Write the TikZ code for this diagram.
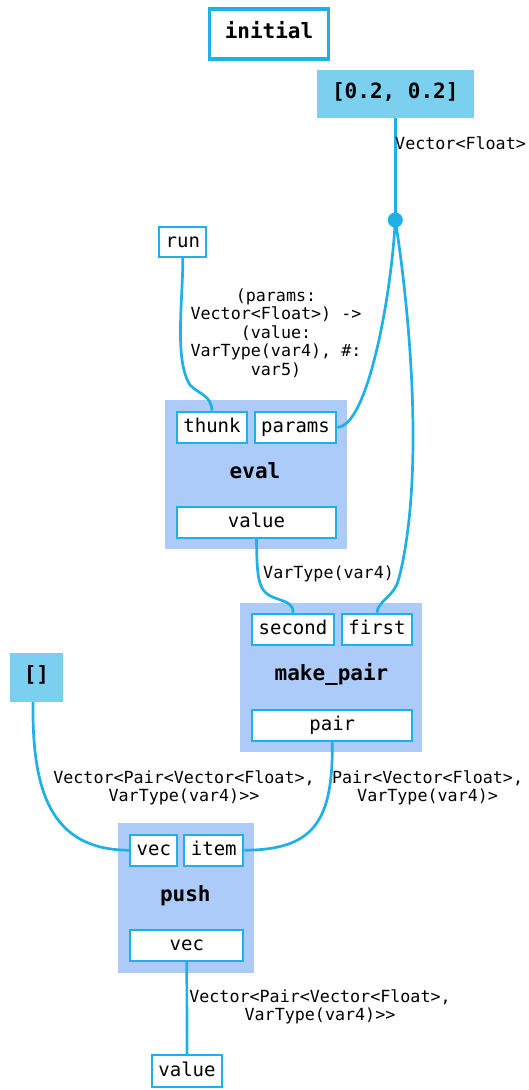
\documentclass[tikz,border=0pt]{standalone}
\usepackage{fontspec}
\newfontfamily\djm{DejaVu Sans Mono}
\definecolor{lineblue}{RGB}{30,176,230}
\definecolor{clusterfill}{RGB}{173,203,248}
\definecolor{constfill}{RGB}{123,207,239}
\begin{document}
\begin{tikzpicture}[x=1pt,y=-1pt,
 edge/.style={draw=lineblue,line width=2.7pt},
 port/.style={draw=lineblue,line width=2.2pt,fill=white,inner sep=0,minimum height=31pt,text height=14pt,text depth=4pt,font=\djm\fontsize{19}{22}\selectfont},
 cluster/.style={fill=clusterfill,inner sep=0},
 title/.style={font=\djm\bfseries\fontsize{21}{25}\selectfont,inner sep=0,text height=15pt,text depth=0pt},
 constbox/.style={fill=constfill,inner sep=0,text height=15pt,text depth=6.4pt,font=\djm\bfseries\fontsize{21}{25}\selectfont},
 elabel/.style={font=\djm\fontsize{16.7}{18.5}\selectfont,inner sep=0,align=center}]
\useasboundingbox (0,0) rectangle (529,1090);
% title
\node[draw=lineblue,line width=3.5pt,fill=white,minimum width=119pt,minimum height=50pt,inner sep=0,text height=15pt,text depth=6.4pt,font=\djm\bfseries\fontsize{21}{25}\selectfont] (initial) at (269,34) {initial};
% constants
\node[constbox,minimum width=157pt,minimum height=48pt] (c1) at (395.3,94.2) {[0.2, 0.2]};
\node[constbox,minimum width=52.7pt,minimum height=49pt] (c2) at (36.5,677.5) {[]};
% run
\node[port,minimum width=47pt,minimum height=30pt] (run) at (182.8,242) {run};
% eval
\node[cluster,minimum width=182pt,minimum height=149pt] (evalc) at (256,474.7) {};
\node[port,minimum width=70.6pt] (thunk) at (212,427.2) {thunk};
\node[port,minimum width=81.6pt] (params) at (295.5,427.2) {params};
\node[title] (evall) at (255,470.7) {eval};
\node[port,minimum width=159.6pt] (evalv) at (256.5,522.2) {value};
% make_pair
\node[cluster,minimum width=182pt,minimum height=149pt] (mpc) at (331,677.5) {};
\node[port,minimum width=81.7pt] (second) at (293,629.3) {second};
\node[port,minimum width=70.5pt] (first) at (377,629.3) {first};
\node[title] (mpl) at (331.5,673.2) {make\_pair};
\node[port,minimum width=160pt] (pair) at (332.3,725.6) {pair};
% push
\node[cluster,minimum width=136pt,minimum height=149.4pt] (pushc) at (185.7,898) {};
\node[port,minimum width=47pt] (vec) at (153.8,850.2) {vec};
\node[port,minimum width=59pt] (item) at (213.8,850.2) {item};
\node[title] (pushl) at (185.3,894) {push};
\node[port,minimum width=113pt] (vecout) at (186.8,945.5) {vec};
% output
\node[port,minimum width=70.6pt,minimum height=32pt] (value) at (187,1071.3) {value};
% dot
\coordinate (dot) at (395.3,220);
% edges
\draw[edge] (c1.south) -- (dot);
\fill[lineblue] (dot) circle (7.5pt);
\draw[edge] (run.south) .. controls (183,300) and (174,360) .. (190,385) .. controls (200,395) and (211,395) .. (thunk.north);
\draw[edge] (dot) .. controls (391,300) and (367,427) .. (params.east);
\draw[edge] (dot) .. controls (411,320) and (424,480) .. (399,578) .. controls (394,598) and (378,600) .. (first.north);
\draw[edge] (evalv.south) .. controls (257,580) and (258,592) .. (275,598) .. controls (290,603) and (293,605) .. (second.north);
\draw[edge] ([xshift=-3.5pt]c2.south) .. controls (32,790) and (50,850) .. (vec.west);
\draw[edge] (pair.south) .. controls (333,820) and (315,850) .. (item.east);
\draw[edge] (vecout.south) -- (value.north);
% labels
\node[elabel,anchor=west] (l1) at (395,143) {Vector<Float>};
\node[elabel] (l2) at (276,333) {(params:\\Vector<Float>) ->\\(value:\\VarType(var4), \#:\\var5)};
\node[elabel,anchor=west] (l3) at (263,574) {VarType(var4)};
\node[elabel] (l4) at (184,788) {Vector<Pair<Vector<Float>,\\VarType(var4)>>};
\node[elabel] (l5) at (427.6,788) {Pair<Vector<Float>,\\VarType(var4)>};
\node[elabel] (l6) at (320,1006.7) {Vector<Pair<Vector<Float>,\\VarType(var4)>>};
\end{tikzpicture}
\end{document}
